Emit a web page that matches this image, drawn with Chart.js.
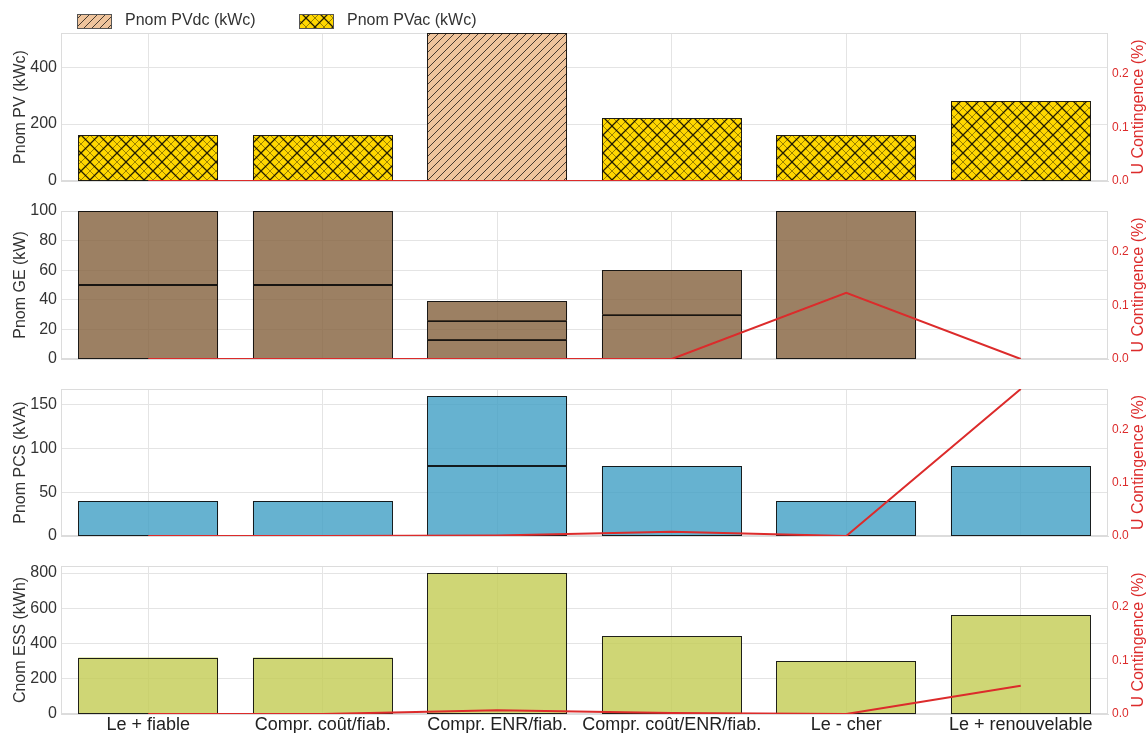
<!DOCTYPE html>
<html>
<head>
<meta charset="utf-8">
<script src="https://cdn.jsdelivr.net/npm/chart.js@4"></script>
<style>
  body { margin: 0; background: #fff; }
  #wrap { position: relative; width: 1148px; height: 733px; overflow: hidden; }
  canvas { position: absolute; left: 0; }
</style>
</head>
<body>
<div id="wrap">
  <canvas id="pv" width="1148" height="196" style="top:0px"></canvas>
  <canvas id="ge" width="1148" height="177" style="top:196px"></canvas>
  <canvas id="pcs" width="1148" height="178" style="top:373px"></canvas>
  <canvas id="ess" width="1148" height="182" style="top:551px"></canvas>
</div>
<script>
const scenarios = ['Le + fiable', 'Compr. coût/fiab.', 'Compr. ENR/fiab.', 'Compr. coût/ENR/fiab.', 'Le - cher', 'Le + renouvelable']

// PV (kWc)
const pvDc = [null, null, 520, null, null, null]
const pvAc = [160, 160, null, 220, 160, 280]
// genset units (kW), one array per stacked unit
const geUnit1 = [50, 50, 13, 30, 100, null]
const geUnit2 = [50, 50, 13, 30, null, null]
const geUnit3 = [null, null, 13, null, null, null]
// PCS units (kVA)
const pcsUnit1 = [40, 40, 80, 80, 40, 80]
const pcsUnit2 = [null, null, 80, null, null, null]
// storage (kWh)
const essCap = [320, 320, 800, 440, 300, 560]
// U contingence (%) per panel
const uPv = [0, 0, 0, 0, 0, 0]
const uGe = [0, 0, 0, 0, 0.124, 0]
const uPcs = [0, 0, 0.001, 0.008, 0, 0.277]
const uEss = [0, 0, 0.007, 0.002, 0, 0.053]

// tick labels
const pvTicks = [0, 200, 400]
const geTicks = [0, 20, 40, 60, 80, 100]
const pcsTicks = [0, 50, 100, 150]
const essTicks = [0, 200, 400, 600, 800]
const uTicks = [0, 0.1, 0.2]

const uMax = 0.277
const red = '#dc2b2b'
const gridCol = '#e4e4e4'
const FONT = '"Liberation Sans", Arial, sans-serif'

Chart.defaults.font.family = FONT

function makeHatch(canvasId, bg, size, draw) {
  const c = document.createElement('canvas')
  c.width = size
  c.height = size
  const g = c.getContext('2d')
  g.fillStyle = bg
  g.fillRect(0, 0, size, size)
  draw(g, size)
  return document.getElementById(canvasId).getContext('2d').createPattern(c, 'repeat')
}

const dcPattern = makeHatch('pv', '#efc49c', 8, (g, s) => {
  g.strokeStyle = 'rgba(0,0,0,0.7)'
  g.lineWidth = 1
  g.beginPath()
  for (let k = -s; k <= s; k += s) {
    g.moveTo(k, s)
    g.lineTo(k + s, 0)
  }
  g.stroke()
})

const acPattern = makeHatch('pv', '#ffd700', 18, (g, s) => {
  for (let k = -s; k <= s; k += s / 2) {
    const main = (k % s === 0)
    g.strokeStyle = main ? 'rgba(0,0,0,0.85)' : 'rgba(0,0,0,0.4)'
    g.lineWidth = main ? 1.3 : 1
    g.beginPath()
    g.moveTo(k, s); g.lineTo(k + s, 0)
    g.moveTo(k, 0); g.lineTo(k + s, s)
    g.stroke()
  }
})

const decor = {
  id: 'decor',
  beforeDatasetsDraw(chart) {
    const {ctx, chartArea: a} = chart
    ctx.save()
    ctx.strokeStyle = '#dcdcdc'
    ctx.lineWidth = 1
    ctx.strokeRect(a.left + 0.5, a.top + 0.5, a.right - a.left - 1, a.bottom - a.top - 1)
    ctx.restore()
  },
  // crisp 1px outlines on every bar segment
  afterDatasetDraw(chart, args) {
    const meta = args.meta
    if (meta.type !== 'bar') return
    const ctx = chart.ctx
    ctx.save()
    ctx.strokeStyle = 'rgba(10,10,10,0.9)'
    ctx.lineWidth = 1
    meta.data.forEach(el => {
      const p = el.getProps(['x', 'y', 'base', 'width'], true)
      if (!isFinite(p.y) || !isFinite(p.base) || Math.abs(p.y - p.base) < 0.5) return
      const l = Math.round(p.x - p.width / 2) + 0.5
      const r = Math.round(p.x + p.width / 2) - 0.5
      const t = Math.round(Math.min(p.y, p.base)) + 0.5
      const b = Math.round(Math.max(p.y, p.base)) - 0.5
      ctx.strokeRect(l, t, r - l, b - t)
    })
    ctx.restore()
  },
  afterDraw(chart, args, opts) {
    const {ctx, chartArea: a} = chart
    const midY = (a.top + a.bottom) / 2
    ctx.save()
    ctx.font = '16px ' + FONT
    ctx.textAlign = 'center'
    ctx.textBaseline = 'middle'

    ctx.save()
    ctx.translate(21, midY)
    ctx.rotate(-Math.PI / 2)
    ctx.fillStyle = '#333'
    ctx.fillText(opts.title, 0, 0)
    ctx.restore()

    ctx.save()
    ctx.translate(1139, midY)
    ctx.rotate(-Math.PI / 2)
    ctx.fillStyle = red
    ctx.fillText('U Contingence (%)', 0, 0)
    ctx.restore()

    if (opts.legend) {
      const items = chart.data.datasets.filter(d => d.type === 'bar')
      const xs = [77, 299]
      ctx.textAlign = 'left'
      items.forEach((d, i) => {
        const x = xs[i]
        ctx.fillStyle = d.backgroundColor
        ctx.fillRect(x, 14, 34, 14)
        ctx.strokeStyle = '#555'
        ctx.lineWidth = 1
        ctx.strokeRect(x + 0.5, 14.5, 34, 14)
        ctx.fillStyle = '#333'
        ctx.fillText(d.label, x + 48, 21)
      })
    }
    ctx.restore()
  }
}

function makePanel(id, cfg) {
  const datasets = cfg.bars.map(b => ({
    type: 'bar',
    label: b.label,
    data: b.data,
    backgroundColor: b.color,
    borderWidth: 0,
    barPercentage: 0.8,
    categoryPercentage: 1,
    yAxisID: 'y',
    order: 1
  }))
  datasets.push({
    type: 'line',
    label: 'U Contingence (%)',
    data: cfg.u,
    borderColor: red,
    borderWidth: 2,
    pointRadius: 0,
    tension: 0,
    yAxisID: 'y2',
    order: 0
  })

  return new Chart(document.getElementById(id), {
    data: {labels: scenarios, datasets: datasets},
    options: {
      responsive: false,
      animation: false,
      layout: {padding: {top: cfg.top, left: 0, right: 0, bottom: 0}},
      plugins: {
        legend: {display: false},
        tooltip: {enabled: false},
        decor: {title: cfg.title, legend: !!cfg.legend}
      },
      scales: {
        x: {
          stacked: true,
          offset: true,
          grid: {offset: false, color: gridCol, drawTicks: false},
          border: {color: '#dcdcdc'},
          ticks: {display: !!cfg.labels, autoSkip: false, maxRotation: 0, padding: 0, color: '#222', font: {size: 18}},
          afterFit(s) { s.height = cfg.xh }
        },
        y: {
          position: 'left',
          stacked: true,
          min: 0,
          max: cfg.max,
          ticks: {padding: 4, color: '#333', font: {size: 16}},
          grid: {color: gridCol, drawTicks: false},
          border: {color: '#dcdcdc'},
          afterBuildTicks(s) { s.ticks = cfg.ticks.map(v => ({value: v})) },
          afterFit(s) { s.width = 61 }
        },
        y2: {
          position: 'right',
          min: 0,
          max: uMax,
          ticks: {padding: 4, color: red, font: {size: 12}, callback: v => v.toFixed(1)},
          grid: {display: false, drawTicks: false},
          border: {display: false},
          afterBuildTicks(s) { s.ticks = uTicks.map(v => ({value: v})) },
          afterFit(s) { s.width = 40 }
        }
      }
    },
    plugins: [decor]
  })
}

makePanel('pv', {
  top: 33, xh: 15, max: 520, ticks: pvTicks, title: 'Pnom PV (kWc)', legend: true, u: uPv,
  bars: [
    {label: 'Pnom PVdc (kWc)', data: pvDc, color: dcPattern},
    {label: 'Pnom PVac (kWc)', data: pvAc, color: acPattern}
  ]
})

makePanel('ge', {
  top: 15, xh: 14, max: 100, ticks: geTicks, title: 'Pnom GE (kW)', u: uGe,
  bars: [
    {label: 'GE 1', data: geUnit1, color: 'rgba(131,96,60,0.8)'},
    {label: 'GE 2', data: geUnit2, color: 'rgba(131,96,60,0.8)'},
    {label: 'GE 3', data: geUnit3, color: 'rgba(131,96,60,0.8)'}
  ]
})

makePanel('pcs', {
  top: 16, xh: 15, max: 168, ticks: pcsTicks, title: 'Pnom PCS (kVA)', u: uPcs,
  bars: [
    {label: 'PCS 1', data: pcsUnit1, color: 'rgba(64,159,196,0.8)'},
    {label: 'PCS 2', data: pcsUnit2, color: 'rgba(64,159,196,0.8)'}
  ]
})

makePanel('ess', {
  top: 15, xh: 19, max: 840, ticks: essTicks, title: 'Cnom ESS (kWh)', labels: true, u: uEss,
  bars: [
    {label: 'ESS', data: essCap, color: 'rgba(195,204,82,0.8)'}
  ]
})
</script>
</body>
</html>
